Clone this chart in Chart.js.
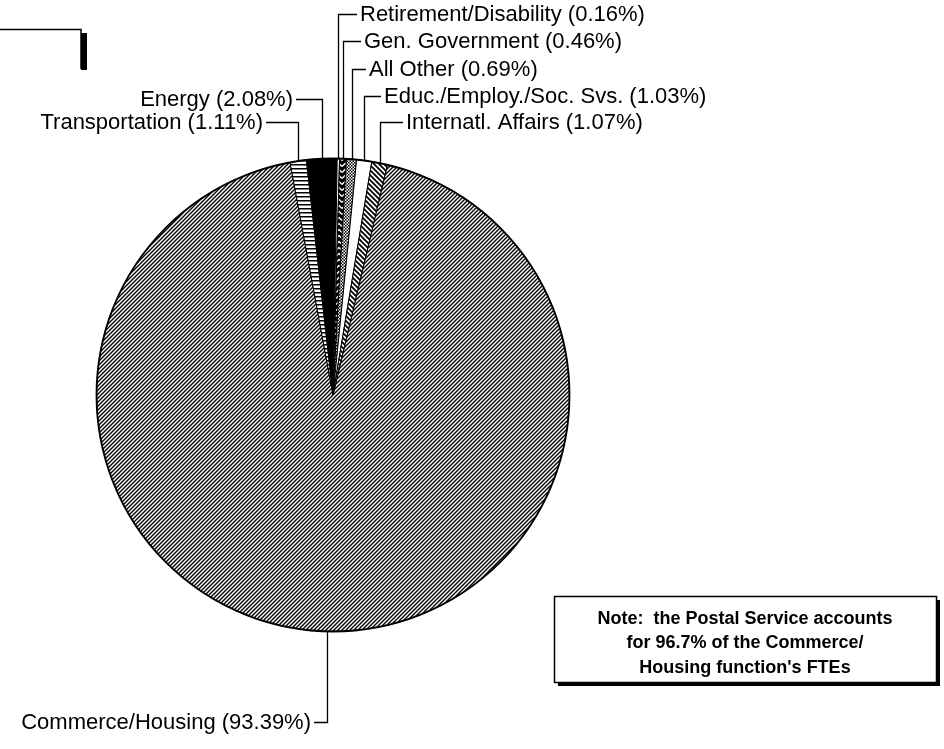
<!DOCTYPE html>
<html>
<head>
<meta charset="utf-8">
<script src="https://cdn.jsdelivr.net/npm/chart.js@4/dist/chart.umd.min.js"></script>
<style>
    html, body { margin: 0; padding: 0; background: #fff; }
    #pieChart { display: block; }
</style>
</head>
<body>
<canvas id="pieChart" width="944" height="749"></canvas>
<script>
// data, clockwise from the start of the big slice
const categories = ['Commerce/Housing', 'Transportation', 'Energy', 'Retirement/Disability',
    'Gen. Government', 'All Other', 'Educ./Employ./Soc. Svs.', 'Internatl. Affairs'];
const shares = [93.39, 1.11, 2.08, 0.16, 0.46, 0.69, 1.03, 1.07];
const fills = ['diagUp', 'hStripes', 'solid', 'white', 'chevron', 'checker', 'white', 'diagDown'];

// where each label sits (text anchor), and which side the leader comes from
const labelSpots = [
    {x: 311, y: 722, align: 'right'},
    {x: 263, y: 122, align: 'right'},
    {x: 293, y: 99, align: 'right'},
    {x: 360, y: 14, align: 'left'},
    {x: 364, y: 41, align: 'left'},
    {x: 369, y: 69, align: 'left'},
    {x: 384, y: 96, align: 'left'},
    {x: 406, y: 122, align: 'left'}
];

function makePattern(kind) {
    let c = document.createElement('canvas');
    let g = c.getContext('2d');
    if (kind === 'solid') return '#000';
    if (kind === 'white') return '#fff';
    if (kind === 'diagUp') {
        c.width = 4; c.height = 4;
        g.fillStyle = '#fff'; g.fillRect(0, 0, 4, 4);
        g.strokeStyle = '#000'; g.lineWidth = 1.4;
        g.beginPath();
        g.moveTo(-1, 5); g.lineTo(5, -1);
        g.moveTo(-1, 1); g.lineTo(1, -1);
        g.moveTo(3, 5); g.lineTo(5, 3);
        g.stroke();
    } else if (kind === 'diagDown') {
        c.width = 5; c.height = 5;
        g.fillStyle = '#fff'; g.fillRect(0, 0, 5, 5);
        g.strokeStyle = '#000'; g.lineWidth = 1.8;
        g.beginPath();
        g.moveTo(-1, -1); g.lineTo(6, 6);
        g.moveTo(4, -1); g.lineTo(6, 1);
        g.moveTo(-1, 4); g.lineTo(1, 6);
        g.stroke();
    } else if (kind === 'hStripes') {
        c.width = 4; c.height = 4;
        g.fillStyle = '#fff'; g.fillRect(0, 0, 4, 4);
        g.fillStyle = '#000'; g.fillRect(0, 0, 4, 1.5);
    } else if (kind === 'chevron') {
        c.width = 6; c.height = 6;
        g.fillStyle = '#000'; g.fillRect(0, 0, 6, 6);
        g.strokeStyle = '#fff'; g.lineWidth = 1.4;
        g.beginPath();
        g.moveTo(0, 4.5); g.lineTo(3, 1.5); g.lineTo(6, 4.5);
        g.stroke();
    } else if (kind === 'checker') {
        c.width = 3; c.height = 3;
        g.fillStyle = '#fff'; g.fillRect(0, 0, 3, 3);
        g.fillStyle = '#000';
        g.fillRect(0, 0, 1.5, 1.5);
        g.fillRect(1.5, 1.5, 1.5, 1.5);
    }
    return g.createPattern(c, 'repeat');
}

const leaderPlugin = {
    id: 'leaders',
    afterDraw(chart) {
        let ctx = chart.ctx;
        let arcs = chart.getDatasetMeta(0).data;
        ctx.save();

        // heavier outline round the whole pie
        let first = arcs[0];
        ctx.beginPath();
        ctx.arc(first.x, first.y, first.outerRadius, 0, Math.PI * 2);
        ctx.strokeStyle = '#000';
        ctx.lineWidth = 1.8;
        ctx.stroke();

        ctx.font = '22px "Liberation Sans", Arial, sans-serif';
        ctx.fillStyle = '#000';
        ctx.textBaseline = 'middle';
        ctx.lineWidth = 1.3;

        arcs.forEach((arc, i) => {
            let spot = labelSpots[i];
            let mid = (arc.startAngle + arc.endAngle) / 2;
            let px = arc.x + Math.cos(mid) * arc.outerRadius;
            let py = arc.y + Math.sin(mid) * arc.outerRadius;
            let text = categories[i] + ' (' + shares[i].toFixed(2) + '%)';

            let endX = spot.align === 'left' ? spot.x - 3 : spot.x + 3;
            ctx.beginPath();
            ctx.moveTo(Math.round(px) + 0.5, py);
            ctx.lineTo(Math.round(px) + 0.5, spot.y + 0.5);
            ctx.lineTo(endX, spot.y + 0.5);
            ctx.stroke();

            ctx.textAlign = spot.align;
            ctx.fillText(text, spot.x, spot.y + 1);
        });

        // empty legend box cut off at the top left
        ctx.lineWidth = 1.5;
        ctx.beginPath();
        ctx.moveTo(0, 29.5);
        ctx.lineTo(81, 29.5);
        ctx.lineTo(81, 69);
        ctx.stroke();
        ctx.fillRect(81, 33, 6, 37);

        // note box with drop shadow
        let bx = 554, by = 596, bw = 382, bh = 86;
        ctx.fillRect(bx + 4, by + 4, bw, bh);
        ctx.fillStyle = '#fff';
        ctx.fillRect(bx, by, bw, bh);
        ctx.lineWidth = 1.5;
        ctx.strokeRect(bx + 0.5, by + 0.5, bw, bh);
        ctx.fillStyle = '#000';
        ctx.font = 'bold 18px "Liberation Sans", Arial, sans-serif';
        ctx.textAlign = 'center';
        let noteLines = ['Note:  the Postal Service accounts',
            'for 96.7% of the Commerce/',
            'Housing function\'s FTEs'];
        noteLines.forEach((line, k) => {
            ctx.fillText(line, bx + bw / 2, by + 23 + k * 24.5);
        });

        ctx.restore();
    }
};

let pieChartCanvas = document.getElementById('pieChart').getContext('2d');

let pieData = {
    labels: categories,
    datasets: [{
        data: shares,
        backgroundColor: fills.map(makePattern),
        borderColor: '#000',
        borderWidth: 1
    }]
};

let pieOptions = {
    responsive: false,
    animation: false,
    devicePixelRatio: 1,
    rotation: 13.3,
    layout: {
        padding: {left: 96, right: 374, top: 157, bottom: 116}
    },
    plugins: {
        legend: {display: false},
        tooltip: {enabled: false}
    }
};

new Chart(pieChartCanvas, {
    type: 'pie',
    data: pieData,
    options: pieOptions,
    plugins: [leaderPlugin]
});
</script>
</body>
</html>
